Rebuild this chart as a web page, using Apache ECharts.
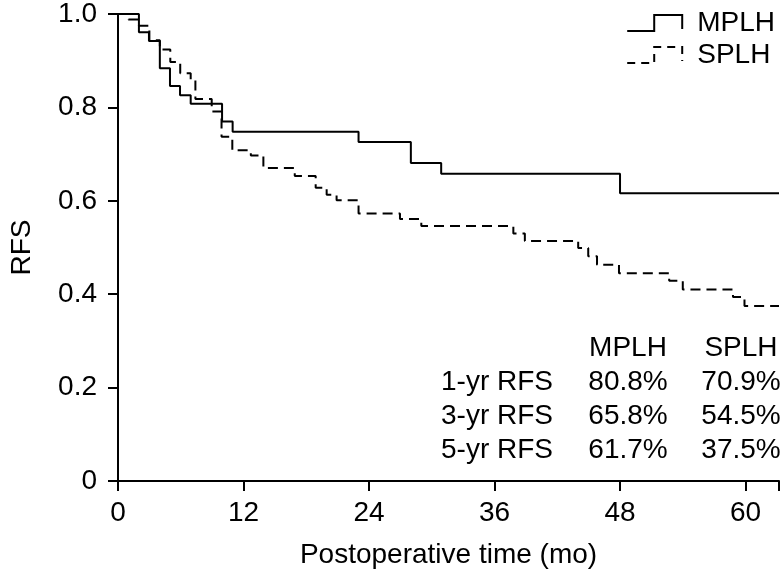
<!DOCTYPE html>
<html>
<head>
<meta charset="utf-8">
<script src="https://cdn.jsdelivr.net/npm/echarts@6/dist/echarts.min.js"></script>
<style>
html,body{margin:0;padding:0;background:#fff;}
#chart{width:782px;height:575px;}
</style>
</head>
<body>
<div id="chart"></div>
<script>
// Kaplan-Meier step data (months, RFS)
const mplhTime = [0, 2.0, 2.96, 4.0, 4.97, 5.93, 6.95, 9.95, 10.96, 23.0, 28.0, 30.9, 48.0, 63.2];
const mplhRFS  = [1, 0.961, 0.942, 0.884, 0.846, 0.826, 0.808, 0.770, 0.748, 0.726, 0.681, 0.658, 0.616, 0.616];

const splhTime = [0, 1.0, 2.0, 3.0, 4.0, 5.0, 5.95, 6.95, 7.4, 8.96, 9.9, 10.93, 12.7, 13.9, 16.9, 18.9, 19.95, 20.9, 23.0, 26.96, 29.0, 37.8, 38.9, 44.0, 44.96, 45.8, 47.9, 52.7, 54.0, 58.8, 59.9, 63.2];
const splhRFS  = [1, 0.988, 0.975, 0.944, 0.924, 0.897, 0.873, 0.859, 0.818, 0.791, 0.737, 0.708, 0.697, 0.670, 0.653, 0.628, 0.613, 0.601, 0.573, 0.561, 0.546, 0.530, 0.514, 0.499, 0.481, 0.463, 0.445, 0.429, 0.410, 0.394, 0.375, 0.375];

const xTicks = [0, 12, 24, 36, 48, 60];
const yTicks = [0, 0.2, 0.4, 0.6, 0.8, 1.0];

const tableHeader = ['', 'MPLH', 'SPLH'];
const rowLabels = ['1-yr RFS', '3-yr RFS', '5-yr RFS'];
const mplhRates = ['80.8%', '65.8%', '61.7%'];
const splhRates = ['70.9%', '54.5%', '37.5%'];

const FONT = "'Liberation Sans', Arial, sans-serif";
const FS = 28;

function pairs(t, v) { return t.map((x, i) => [x, v[i]]); }

const chart = echarts.init(document.getElementById('chart'));

// table of rates as text graphics
const colRight1 = 553, colCenter2 = 628, colCenter3 = 741;
const rowY = [348, 382, 416, 450];
const texts = [];
texts.push({type:'text', left: colCenter2, top: rowY[0], style:{text: tableHeader[1], font: FS + 'px ' + FONT, fill:'#000', textAlign:'center', textVerticalAlign:'middle'}});
texts.push({type:'text', left: colCenter3, top: rowY[0], style:{text: tableHeader[2], font: FS + 'px ' + FONT, fill:'#000', textAlign:'center', textVerticalAlign:'middle'}});
rowLabels.forEach((lab, i) => {
  texts.push({type:'text', x: colRight1, y: rowY[i+1], style:{text: lab, font: FS + 'px ' + FONT, fill:'#000', align:'right', verticalAlign:'middle'}});
  texts.push({type:'text', x: colCenter2, y: rowY[i+1], style:{text: mplhRates[i], font: FS + 'px ' + FONT, fill:'#000', align:'center', verticalAlign:'middle'}});
  texts.push({type:'text', x: colCenter3, y: rowY[i+1], style:{text: splhRates[i], font: FS + 'px ' + FONT, fill:'#000', align:'center', verticalAlign:'middle'}});
});
// fix headers to use x/y too
texts[0] = {type:'text', x: colCenter2, y: rowY[0], style:{text: tableHeader[1], font: FS + 'px ' + FONT, fill:'#000', align:'center', verticalAlign:'middle'}};
texts[1] = {type:'text', x: colCenter3, y: rowY[0], style:{text: tableHeader[2], font: FS + 'px ' + FONT, fill:'#000', align:'center', verticalAlign:'middle'}};

const option = {
  animation: false,
  backgroundColor: '#fff',
  grid: { left: 118, right: 3, top: 11, bottom: 94, containLabel: false },
  legend: {
    orient: 'vertical',
    right: 2,
    top: 4,
    itemWidth: 55,
    itemHeight: 16,
    itemGap: 4,
    selectedMode: false,
    textStyle: { fontSize: FS, color: '#000', fontFamily: FONT, padding: [0, 0, 0, 10] },
    data: [
      { name: 'MPLH', icon: 'path://M0,16L27,16L27,0L55,0L55,14',
        itemStyle: { color: 'transparent', borderColor: '#000', borderWidth: 2 } },
      { name: 'SPLH', icon: 'path://M0,16L27,16L27,0L55,0L55,14',
        itemStyle: { color: 'transparent', borderColor: '#000', borderWidth: 2, borderType: [8, 6] } }
    ]
  },
  xAxis: {
    type: 'value',
    min: 0,
    max: 63.2,
    interval: 12,
    name: 'Postoperative time (mo)',
    nameLocation: 'middle',
    nameGap: 60,
    nameTextStyle: { fontSize: FS, color: '#000', fontFamily: FONT },
    axisLine: { show: true, onZero: false, lineStyle: { color: '#000', width: 2 } },
    axisTick: { show: true, length: 10, lineStyle: { color: '#000', width: 2 } },
    axisLabel: { fontSize: FS, color: '#000', fontFamily: FONT, margin: 18,
      formatter: v => xTicks.indexOf(Math.round(v * 1000) / 1000) >= 0 ? String(v) : '' },
    splitLine: { show: false }
  },
  yAxis: {
    type: 'value',
    min: 0,
    max: 1,
    interval: 0.2,
    name: 'RFS',
    nameLocation: 'middle',
    nameGap: 82,
    nameTextStyle: { fontSize: FS, color: '#000', fontFamily: FONT },
    axisLine: { show: true, lineStyle: { color: '#000', width: 2 } },
    axisTick: { show: true, length: 10, lineStyle: { color: '#000', width: 2 } },
    axisLabel: { fontSize: FS, color: '#000', fontFamily: FONT, margin: 21,
      formatter: v => v === 0 ? '0' : v.toFixed(1) },
    splitLine: { show: false }
  },
  series: [
    {
      name: 'SPLH', type: 'line', step: 'end', showSymbol: false, symbol: 'none',
      data: pairs(splhTime, splhRFS),
      lineStyle: { color: '#000', width: 2, type: [10, 6] },
      itemStyle: { color: '#000' },
      z: 2
    },
    {
      name: 'MPLH', type: 'line', step: 'end', showSymbol: false, symbol: 'none',
      data: pairs(mplhTime, mplhRFS),
      lineStyle: { color: '#000', width: 2, type: 'solid' },
      itemStyle: { color: '#000' },
      z: 3
    }
  ],
  graphic: texts
};
chart.setOption(option);
</script>
</body>
</html>
